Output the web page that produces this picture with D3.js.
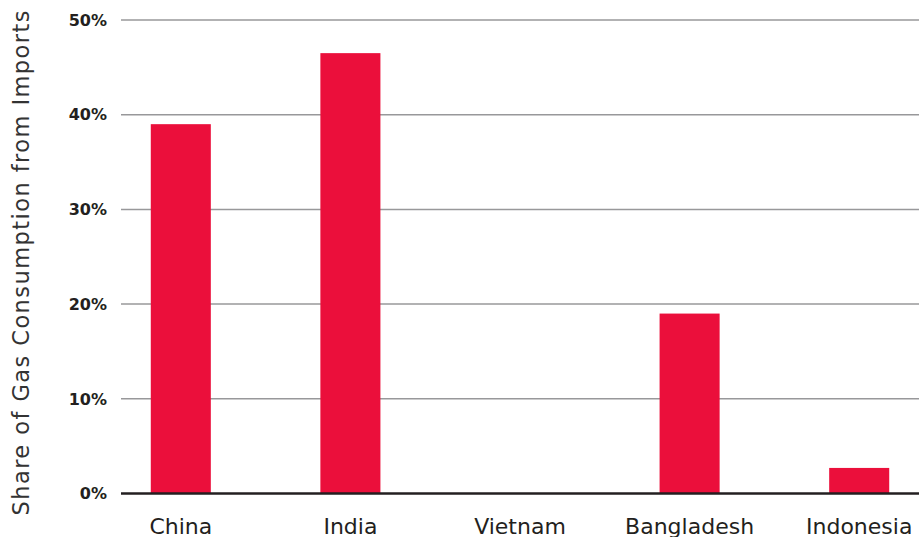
<!DOCTYPE html>
<html>
<head>
<meta charset="utf-8">
<script src="https://cdn.jsdelivr.net/npm/d3@7"></script>
<style>
  body { margin: 0; background: #fff; }
  svg { display: block; }
</style>
</head>
<body>
<div id="chart"></div>
<script>
// Data
const countries = ["China", "India", "Vietnam", "Bangladesh", "Indonesia"];
const importShare = [39.0, 46.5, 0, 19.0, 2.7];
const yTicks = [0, 10, 20, 30, 40, 50];

const width = 919;
const height = 537;
const margin = { top: 20, right: 0, bottom: 43, left: 121 };

const svg = d3.select("#chart")
  .append("svg")
  .attr("width", width)
  .attr("height", height);

// Scales
const x = d3.scaleBand()
  .domain(countries)
  .range([96, 944])
  .paddingInner(0.646)
  .paddingOuter(0.323);

const y = d3.scaleLinear()
  .domain([0, 50])
  .range([height - margin.bottom - 0.5, margin.top]);

// Gridlines
svg.append("g")
  .selectAll("line")
  .data(yTicks.filter(d => d > 0))
  .join("line")
  .attr("x1", margin.left)
  .attr("x2", width)
  .attr("y1", d => y(d))
  .attr("y2", d => y(d))
  .attr("stroke", "#98989a")
  .attr("stroke-width", 1.5);

// Y tick labels
svg.append("g")
  .selectAll("text")
  .data(yTicks)
  .join("text")
  .attr("x", 107)
  .attr("y", d => y(d))
  .attr("dy", "0.36em")
  .attr("text-anchor", "end")
  .attr("font-family", "'DejaVu Sans', sans-serif")
  .attr("font-weight", 700)
  .attr("font-size", 16)
  .attr("fill", "#231f20")
  .text(d => d + "%");

// Bars
svg.append("g")
  .selectAll("rect")
  .data(countries)
  .join("rect")
  .attr("x", d => x(d))
  .attr("width", x.bandwidth())
  .attr("y", (d, i) => y(importShare[i]))
  .attr("height", (d, i) => y(0) - y(importShare[i]))
  .attr("fill", "#eb0f3b");

// Baseline
svg.append("line")
  .attr("x1", margin.left)
  .attr("x2", width)
  .attr("y1", y(0))
  .attr("y2", y(0))
  .attr("stroke", "#231f20")
  .attr("stroke-width", 2.5);

// X labels
svg.append("g")
  .selectAll("text")
  .data(countries)
  .join("text")
  .attr("x", d => x(d) + x.bandwidth() / 2)
  .attr("y", 534)
  .attr("text-anchor", "middle")
  .attr("font-family", "'DejaVu Sans', sans-serif")
  .attr("font-size", 22)
  .attr("fill", "#231f20")
  .text(d => d);

// Y axis title
svg.append("text")
  .attr("transform", `translate(29, 263) rotate(-90)`)
  .attr("text-anchor", "middle")
  .attr("font-family", "'DejaVu Sans', sans-serif")
  .attr("font-size", 22.5)
  .attr("textLength", 505)
  .attr("lengthAdjust", "spacing")
  .attr("fill", "#333")
  .text("Share of Gas Consumption from Imports");
</script>
</body>
</html>
